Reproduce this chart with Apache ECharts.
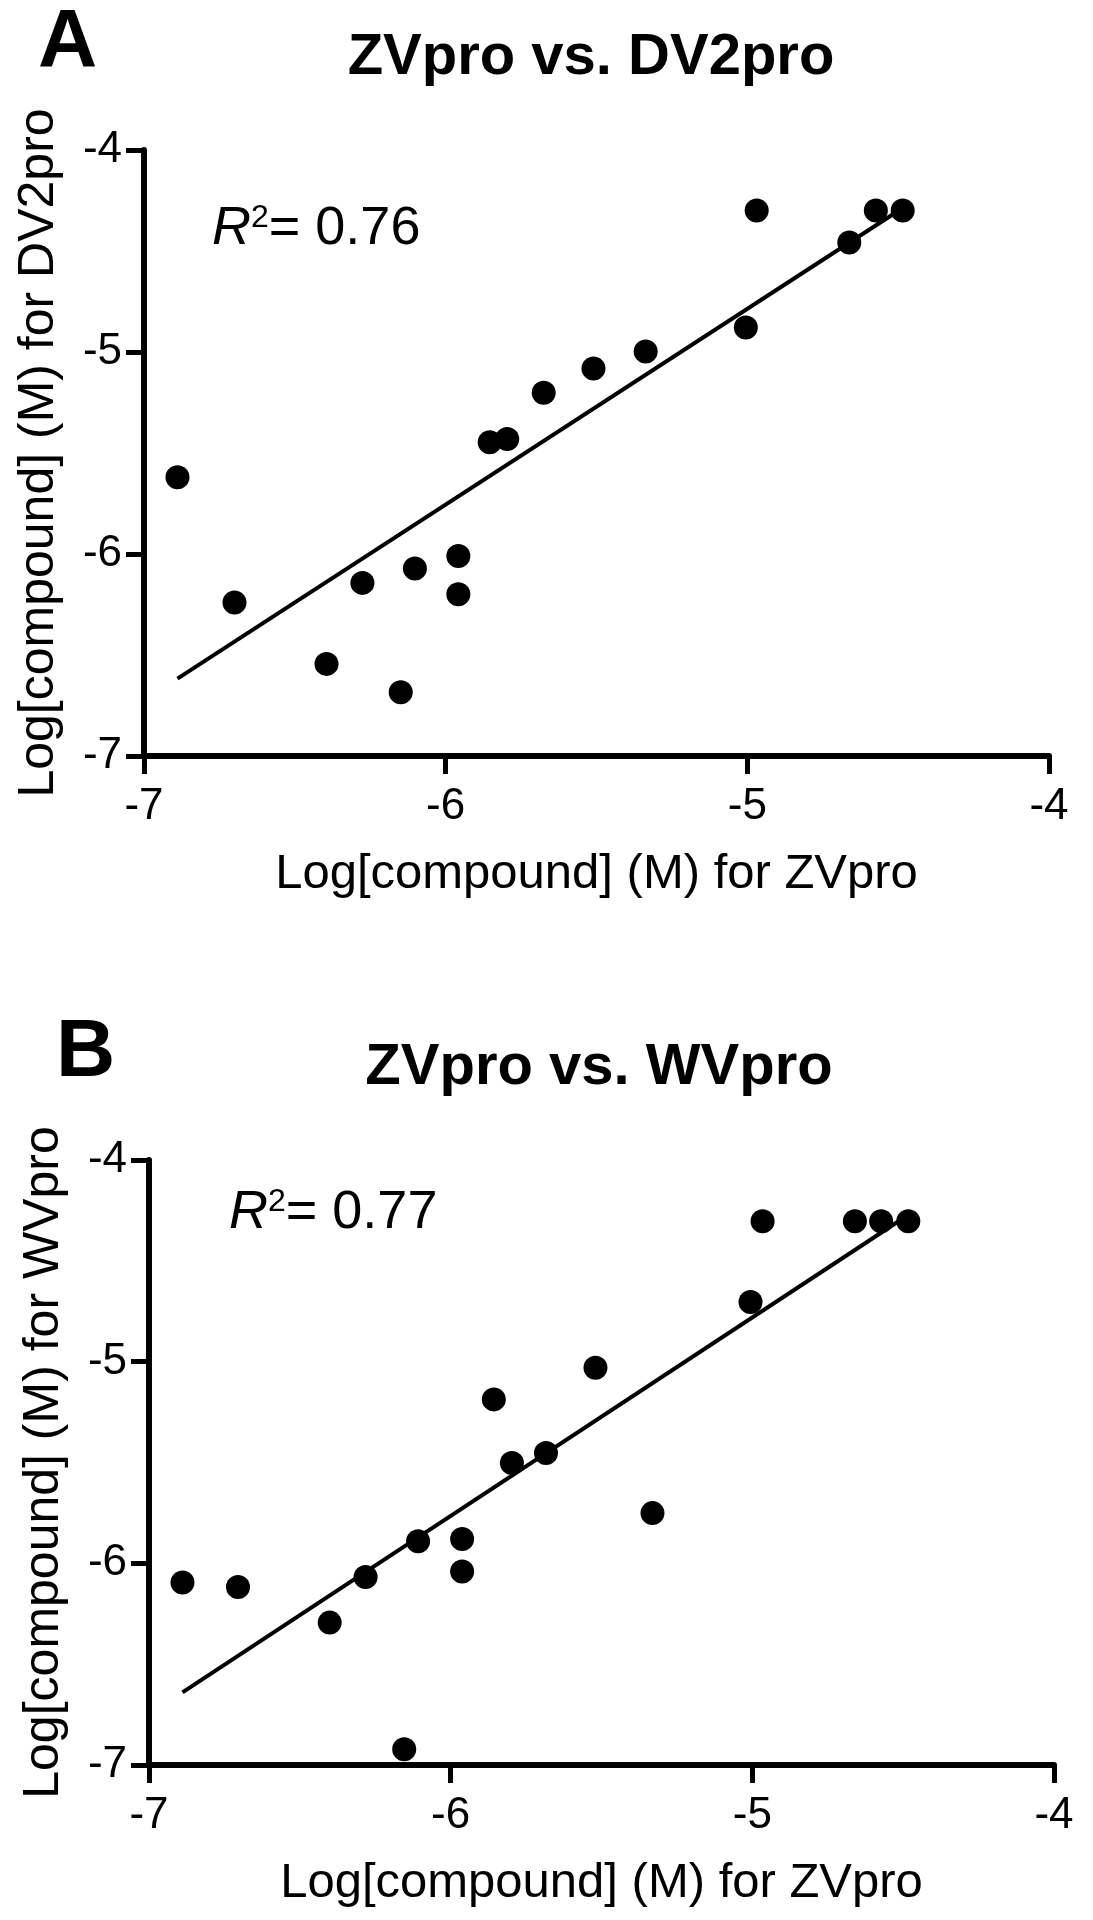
<!DOCTYPE html>
<html><head><meta charset="utf-8">
<script src="https://cdn.jsdelivr.net/npm/echarts@6/dist/echarts.min.js"></script>
<style>html,body{margin:0;padding:0;background:#fff}#c{width:1093px;height:1920px}</style>
</head><body><div id="c"></div>
<script>
// ---- data ----
const tickValues = [-7, -6, -5, -4];
const tickLabels = ['-7', '-6', '-5', '-4'];
const zvproA = [-6.889, -6.700, -6.395, -6.276, -6.149, -6.102, -5.958, -5.958, -5.854, -5.796, -5.675, -5.510, -5.337, -5.005, -4.969, -4.662, -4.574, -4.485];
const dv2pro = [-5.620, -6.240, -6.544, -6.143, -6.684, -6.072, -6.010, -6.199, -5.447, -5.431, -5.202, -5.082, -4.997, -4.879, -4.300, -4.458, -4.300, -4.300];
const zvproB = [-6.889, -6.705, -6.401, -6.282, -6.154, -6.108, -5.962, -5.962, -5.857, -5.797, -5.684, -5.520, -5.331, -5.006, -4.966, -4.660, -4.573, -4.483];
const wvpro  = [-6.095, -6.117, -6.294, -6.068, -6.922, -5.890, -5.879, -6.041, -5.187, -5.502, -5.453, -5.030, -5.751, -4.704, -4.304, -4.304, -4.304, -4.304];
const fitAx = [-6.889, -4.485];
const fitAy = [-6.617, -4.287];
const fitBx = [-6.889, -4.485];
const fitBy = [-6.640, -4.274];
const panelLetters = ['A', 'B'];
const panelTitles = ['ZVpro vs. DV2pro', 'ZVpro vs. WVpro'];
const r2Values = ['0.76', '0.77'];
const xAxisName = 'Log[compound] (M) for ZVpro';
const yAxisNames = ['Log[compound] (M) for DV2pro', 'Log[compound] (M) for WVpro'];

// ---- chart ----
const FONT = "'Liberation Sans', Arial, Helvetica, sans-serif";
const pair = (xs, ys) => xs.map((x, i) => [x, ys[i]]);
const grids = [
  {left: 144, top: 150, width: 905, height: 606},
  {left: 149, top: 1160, width: 905, height: 605}
];
function axisCommon(i, isX) {
  return {
    gridIndex: i, type: 'value', min: -7, max: -4, interval: 1,
    axisLine: {show: true, onZero: false, lineStyle: {color: '#000', width: 6}},
    axisTick: {show: true, length: 18, lineStyle: {color: '#000', width: 5}},
    splitLine: {show: false},
    axisLabel: {
      fontSize: 44, color: '#000', fontFamily: FONT, margin: isX ? 29 : 22,
      formatter: v => tickLabels[tickValues.indexOf(v)]
    },
    name: isX ? xAxisName : yAxisNames[i],
    nameLocation: 'middle',
    nameGap: isX ? 94 : 80,
    nameTextStyle: {fontSize: isX ? 49 : 50, color: '#000', fontFamily: FONT}
  };
}
const chart = echarts.init(document.getElementById('c'), null, {renderer: 'canvas'});
const graphics = [];
[0, 1].forEach(i => {
  const g = grids[i];
  graphics.push({
    type: 'text', x: i === 0 ? 38 : 56, y: i === 0 ? 43 : 1053,
    style: {text: panelLetters[i], font: 'bold 82px ' + FONT, fill: '#000', verticalAlign: 'middle'}
  });
  graphics.push({
    type: 'text', x: i === 0 ? 591 : 599, y: i === 0 ? 58 : 1068,
    style: {text: panelTitles[i], font: 'bold 58px ' + FONT, fill: '#000', align: 'center', verticalAlign: 'middle'}
  });
  graphics.push({
    type: 'text', x: i === 0 ? 212 : 229, y: i === 0 ? 229 : 1213,
    style: {
      text: '{r|R}{s|2}{n|= ' + r2Values[i] + '}',
      verticalAlign: 'middle',
      rich: {
        r: {fontSize: 54, fontStyle: 'italic', fontFamily: FONT, fill: '#000', color: '#000'},
        s: {fontSize: 32, fontFamily: FONT, verticalAlign: 'top', fill: '#000', color: '#000'},
        n: {fontSize: 54, fontFamily: FONT, fill: '#000', color: '#000'}
      }
    }
  });
});
chart.setOption({
  backgroundColor: '#fff',
  animation: false,
  grid: grids,
  xAxis: [axisCommon(0, true), axisCommon(1, true)],
  yAxis: [axisCommon(0, false), axisCommon(1, false)],
  series: [
    {type: 'line', xAxisIndex: 0, yAxisIndex: 0, data: pair(fitAx, fitAy), symbol: 'none',
     lineStyle: {color: '#000', width: 4}, z: 2},
    {type: 'scatter', xAxisIndex: 0, yAxisIndex: 0, data: pair(zvproA, dv2pro), symbolSize: 24,
     itemStyle: {color: '#000', opacity: 1}, z: 3},
    {type: 'line', xAxisIndex: 1, yAxisIndex: 1, data: pair(fitBx, fitBy), symbol: 'none',
     lineStyle: {color: '#000', width: 4}, z: 2},
    {type: 'scatter', xAxisIndex: 1, yAxisIndex: 1, data: pair(zvproB, wvpro), symbolSize: 24,
     itemStyle: {color: '#000', opacity: 1}, z: 3}
  ],
  graphic: graphics
});
</script></body></html>
